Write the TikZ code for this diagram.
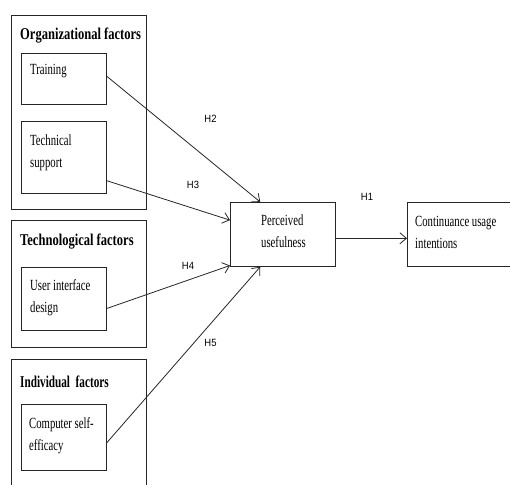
\documentclass[tikz,border=0pt]{standalone}
\usepackage{fontspec}
\setmainfont{Liberation Serif}[FakeStretch=0.69]
\newfontfamily\ttlfont{Liberation Serif}[FakeStretch=0.76]
\newfontfamily\ttlnarrow{Liberation Serif}[FakeStretch=0.68]
\newfontfamily\hfont{Liberation Sans}[FakeStretch=0.9]
\usetikzlibrary{calc,arrows.meta}
\tikzset{
  box/.style={draw=black!85, line width=0.8pt, inner sep=0pt, anchor=north west},
  txt/.style={anchor=base west, inner sep=0pt, align=left, font=\fontsize{15.5}{21.5}\selectfont},
  ttl/.style={anchor=base west, inner sep=0pt, font=\ttlfont\bfseries\fontsize{16.5}{20}\selectfont},
  hlab/.style={inner sep=0pt, font=\hfont\fontsize{10.5}{12}\selectfont},
  arr/.style={draw=black!85, line width=0.8pt, -{Straight Barb[length=6.5pt,width=11pt]}}
}
\begin{document}
\begin{tikzpicture}[x=1pt,y=-1pt]
\useasboundingbox (0,0) rectangle (510,484);
\clip (0,0) rectangle (510,484);
% group boxes
\node[box, minimum width=135pt, minimum height=194pt] (org) at (11,15) {};
\node[box, minimum width=135pt, minimum height=127pt] (techno) at (11,220) {};
\node[box, minimum width=135pt, minimum height=140pt] (indiv) at (11,359) {};
% inner boxes
\node[box, minimum width=85pt, minimum height=51pt] (train) at (21,53) {};
\node[box, minimum width=85pt, minimum height=72pt] (tech) at (21,121) {};
\node[box, minimum width=85pt, minimum height=63pt] (ui) at (21,267) {};
\node[box, minimum width=85pt, minimum height=66pt] (comp) at (21,404) {};
\node[box, minimum width=105pt, minimum height=64pt] (pu) at (230,202) {};
\node[box, minimum width=120pt, minimum height=64pt] (cont) at (407,202) {};
% titles
\node[ttl] (torg) at (20,40) {Organizational factors};
\node[ttl] (ttechno) at (20,245) {Technological factors};
\node[ttl, font=\ttlnarrow\bfseries\fontsize{16.5}{20}\selectfont] (tindiv) at (20,387) {Individual\ \ factors};
% texts (anchored at the baseline of the last line)
\node[txt] (ttrain) at (30,75) {Training};
\node[txt] (ttech) at (30,167) {Technical\\support};
\node[txt] (tui) at (30,312) {User interface\\design};
\node[txt] (tcomp) at (29,450) {Computer self-\\efficacy};
\node[txt] (tpu) at (261,247) {Perceived\\usefulness};
\node[txt] (tcont) at (415,248) {Continuance usage\\intentions};
% arrows
\draw[arr] ($(train.north east)!0.45!(train.south east)$) -- ($(pu.north west)!0.286!(pu.north east)$);
\draw[arr] ($(tech.north east)!0.82!(tech.south east)$) -- ($(pu.north west)!0.28!(pu.south west)$);
\draw[arr] ($(ui.north east)!0.65!(ui.south east)$) -- ($(pu.north west)!0.98!(pu.south west)$);
\draw[arr] ($(comp.north east)!0.58!(comp.south east)$) -- ($(pu.south west)!0.286!(pu.south east)$);
\draw[arr] ($(pu.north east)!0.56!(pu.south east)$) -- ($(cont.north west)!0.56!(cont.south west)$);
% hypothesis labels
\node[hlab] (h1) at (367,197) {H1};
\node[hlab] (h2) at (210.5,119) {H2};
\node[hlab] (h3) at (193,185) {H3};
\node[hlab] (h4) at (188,266) {H4};
\node[hlab] (h5) at (210.5,343) {H5};
\end{tikzpicture}
\end{document}
